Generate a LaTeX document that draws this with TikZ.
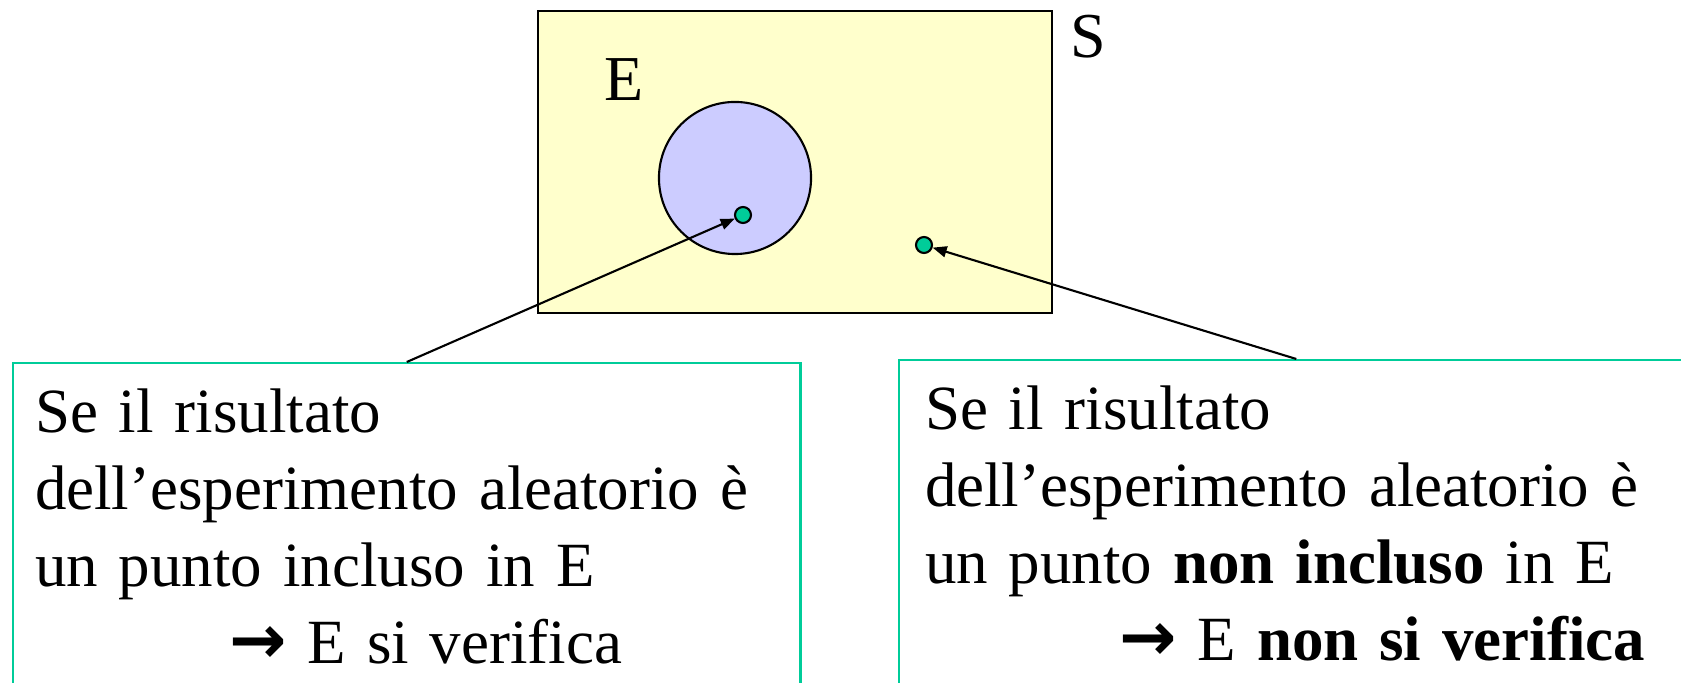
\documentclass[tikz,border=0pt]{standalone}
\usepackage{fontspec}
\setmainfont{Liberation Serif}
\newfontfamily\arrowfont{DejaVu Sans}
\usetikzlibrary{arrows.meta, positioning}
\definecolor{spaceyellow}{RGB}{255,255,204}
\definecolor{eventblue}{RGB}{204,204,255}
\definecolor{boxteal}{RGB}{0,204,153}
\definecolor{dotteal}{RGB}{0,204,153}
\newcommand{\bigarrow}{{\arrowfont\bfseries\fontsize{19.5}{21.9}\selectfont →}}
\tikzset{
  spacebox/.style={rectangle, draw=black, fill=spaceyellow, line width=0.75pt,
    minimum width=5.14cm, minimum height=3.02cm, inner sep=0pt},
  eventdisk/.style={circle, draw=black, fill=eventblue, line width=0.6pt,
    minimum size=1.52cm, inner sep=0pt},
  outcome/.style={circle, draw=black, fill=dotteal, line width=0.6pt,
    minimum size=0.16cm, inner sep=0pt},
  label/.style={inner sep=0pt, font=\fontsize{18.2}{21.9}\selectfont},
  textbox/.style={rectangle, draw=boxteal, line width=0.6pt, anchor=north west,
    align=left, inner ysep=0.26cm, font=\fontsize{17.9}{21.9}\selectfont},
  pointer/.style={-{Triangle[length=1.4mm, width=1.1mm]}, line width=0.6pt, color=black}
}
\begin{document}
\begin{tikzpicture}[x=0.01cm, y=-0.01cm]
  \useasboundingbox (0,0) rectangle (1681,683);

  % Sample space and event
  \node[spacebox] (space) at (795,162) {};
  \node[eventdisk] (eventE) at (735,178) {};
  \node[label] (labE) at (624,80) {E};
  \node[label] (labS) at (1088,37) {S};

  % Outcomes
  \node[outcome] (inside) at (743,215) {};
  \node[outcome] (outside) at (924,245) {};

  % Explanation boxes
  \node[textbox, inner xsep=0.22cm, text width=7.43cm] (leftbox) at (12,362)
    {Se il risultato\\
     dell’esperimento aleatorio è\\
     un punto incluso in E\\
     \hspace*{1.94cm}\bigarrow\ E si verifica};
  \node[textbox, inner xsep=0.26cm, text width=7.42cm] (rightbox) at (898,359)
    {Se il risultato\\
     dell’esperimento aleatorio è\\
     un punto \textbf{non incluso} in E\\
     \hspace*{1.94cm}\bigarrow\ E \textbf{non si verifica}};

  % Pointers
  \draw[pointer] (leftbox.north) -- (inside);
  \draw[pointer] (rightbox.north) -- (outside);
\end{tikzpicture}
\end{document}
